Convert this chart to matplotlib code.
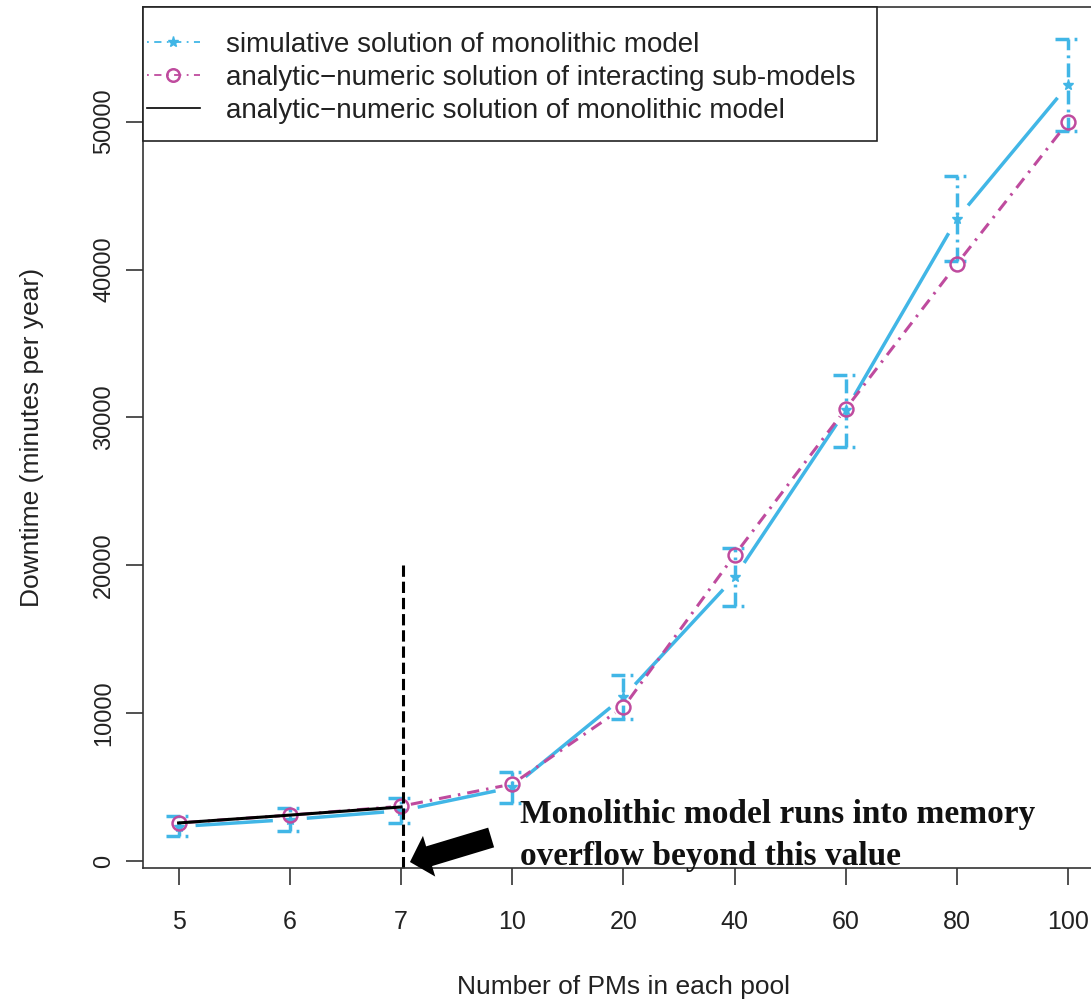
import numpy as np
import matplotlib
matplotlib.use('Agg')
from matplotlib import pyplot as plt
from matplotlib.lines import Line2D
from matplotlib.patches import Rectangle

plt.rcParams['font.family'] = ['Liberation Sans', 'DejaVu Sans']

# values
pm_labels = ['5', '6', '7', '10', '20', '40', '60', '80', '100']
sim_mean = [2330, 2800, 3400, 4970, 11100, 19200, 30500, 43450, 52500]
sim_low = [1680, 2030, 2570, 3930, 9600, 17230, 28030, 40600, 49400]
sim_high = [3040, 3580, 4250, 6000, 12570, 21150, 32900, 46300, 55600]
sub_model = [2570, 3100, 3700, 5200, 10400, 20700, 30600, 40400, 50000]
mono = [2570, 3100, 3650]

blue = '#41B6E6'
pink = '#BF4B9E'

fig = plt.figure(figsize=(10.91, 10.02), dpi=100)
ax = fig.add_axes([143 / 1091, 134 / 1002, 961 / 1091, 861 / 1002])

x = np.arange(1, len(pm_labels) + 1)
lo, hi = min(sim_low), max(sim_high)
pad = 0.04 * (hi - lo)
ax.set_xlim(1 - 0.04 * 8, len(x) + 0.04 * 8)
ax.set_ylim(lo - pad, hi + pad)


def gapped(xs, ys, gap, **kw):
    # R type="b": segments stop short of each point
    pts = ax.transData.transform(np.column_stack([xs, ys]))
    inv = ax.transData.inverted()
    for p, q in zip(pts[:-1], pts[1:]):
        d = q - p
        n = np.hypot(*d)
        if n <= 2 * gap:
            continue
        u = d / n
        a, b = inv.transform([p + u * gap, q - u * gap])
        ax.plot([a[0], b[0]], [a[1], b[1]], solid_capstyle='butt', **kw)


eb_style = (0, (4, 1.5, 0.8, 1.5))
cap = 13 / 111.23
ax.vlines(x, sim_low, sim_high, colors=blue, lw=2.5, linestyles=[eb_style])
ax.hlines(sim_high, x - cap, x + cap, colors=blue, lw=2.5, linestyles=[eb_style])
ax.hlines(sim_low, x - cap, x + cap, colors=blue, lw=2.5, linestyles=[eb_style])

gapped(x, sim_mean, 17, color=blue, lw=2.5)
ax.plot(x, sim_mean, ls='none', marker='*', ms=8, color=blue)

gapped(x, sub_model, 10, color=pink, lw=2.2, ls=(0, (4, 2.3, 0.8, 2.3)))
ax.plot(x, sub_model, ls='none', marker='o', ms=10, mfc='none', mec=pink, mew=1.8)

ax.plot(x[:3], mono, color='black', lw=2.2)

# memory limit marker
ax.plot([3.015, 3.015], [20000, -748], color='black', lw=2.2, ls='--', clip_on=False)
ax.annotate('', xy=(3.08, -71), xytext=(3.81, 1586),
            arrowprops=dict(arrowstyle='simple,head_length=1.44,head_width=3.06,tail_width=1.48',
                            mutation_scale=10, fc='black', ec='black', lw=0,
                            shrinkA=0, shrinkB=0),
            annotation_clip=False)
ax.text(4.07, -274, 'Monolithic model runs into memory\noverflow beyond this value',
        family=['Liberation Serif', 'DejaVu Serif'], fontweight='bold', fontsize=24,
        va='baseline', ha='left', color='#111111', linespacing=1.45)

ax.set_xticks(x, pm_labels)
ax.set_yticks(range(0, 50001, 10000))
ax.tick_params(length=12, width=1.2, color='#333333', labelsize=17, labelcolor='#222222')
ax.tick_params(axis='x', pad=18, labelsize=18)
ax.tick_params(axis='y', labelrotation=90, pad=8)
for lab in ax.get_yticklabels():
    lab.set_va('center')

for s in ax.spines.values():
    s.set_color('#333333')
    s.set_linewidth(1.2)

ax.set_xlabel('Number of PMs in each pool', fontsize=19, color='#222222')
ax.xaxis.set_label_coords(0.5, -0.124)
ax.set_ylabel('Downtime (minutes per year)', fontsize=19, color='#222222')
ax.yaxis.set_label_coords(-0.103, 0.5)

# legend box drawn like R's topleft legend
box_y0 = (868 - 141) / 861
ax.add_patch(Rectangle((0, box_y0), (877 - 143) / 961, 1 - box_y0, transform=ax.transAxes,
                       fc='white', ec='#222222', lw=1.2, zorder=4, clip_on=False))
handles = [
    Line2D([], [], color=blue, lw=1.3, ls=(0, (1, 3, 4, 3)), marker='*', ms=8),
    Line2D([], [], color=pink, lw=1.3, ls=(0, (1, 3, 4, 3)), marker='o', ms=9, mfc='none', mew=1.8),
    Line2D([], [], color='black', lw=1.2),
]
labels = ['simulative solution of monolithic model',
          'analytic\u2212numeric solution of interacting sub-models',
          'analytic\u2212numeric solution of monolithic model']
leg = ax.legend(handles, labels, loc='upper left',
                bbox_to_anchor=((147 - 143) / 961, 1 - (32 - 7) / 861), borderaxespad=0,
                fontsize=20, frameon=False, borderpad=0, labelspacing=0.25,
                handlelength=1.9, handletextpad=0.94)
leg.set_zorder(5)
for t in leg.get_texts():
    t.set_color('#222222')

fig.savefig('out.png', dpi=100)
